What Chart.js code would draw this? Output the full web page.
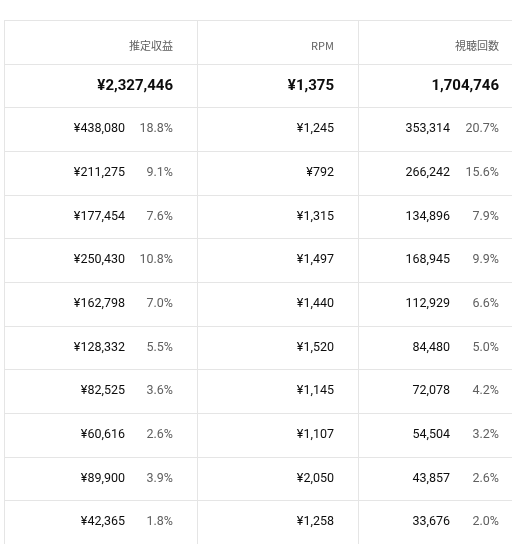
<!DOCTYPE html>
<html><head><meta charset="utf-8">
<script src="https://cdn.jsdelivr.net/npm/chart.js@4"></script>
<style>html,body{margin:0;background:#fff}#wrap{width:512px;height:544px}</style>
</head><body><div id="wrap"><canvas id="c"></canvas></div>
<script>
const headers = ["推定収益", "RPM", "視聴回数"];
const totals = ["¥2,327,446", "¥1,375", "1,704,746"];
const revenue = [438080, 211275, 177454, 250430, 162798, 128332, 82525, 60616, 89900, 42365];
const revenuePct = ["18.8%", "9.1%", "7.6%", "10.8%", "7.0%", "5.5%", "3.6%", "2.6%", "3.9%", "1.8%"];
const rpm = [1245, 792, 1315, 1497, 1440, 1520, 1145, 1107, 2050, 1258];
const views = [353314, 266242, 134896, 168945, 112929, 84480, 72078, 54504, 43857, 33676];
const viewsPct = ["20.7%", "15.6%", "7.9%", "9.9%", "6.6%", "5.0%", "4.2%", "3.2%", "2.6%", "2.0%"];
const rowLabels = ["header", "total"].concat(revenue.map((_, i) => "r" + i));
// column edges in x-scale units (the table width is 0..508)
const colEdges = [0, 193, 354, 508];

const fmt = (n) => n.toLocaleString("en-US");

const tablePlugin = {
  id: "table",
  afterDraw(chart) {
    const { ctx, scales: { x, y }, chartArea } = chart;
    ctx.save();
    ctx.strokeStyle = "#e5e5e5";
    ctx.lineWidth = 1;
    // vertical separators
    colEdges.slice(0, 3).forEach((e) => {
      const px = Math.round(x.getPixelForValue(e)) + 0.5;
      ctx.beginPath(); ctx.moveTo(px, chartArea.top); ctx.lineTo(px, chartArea.bottom); ctx.stroke();
    });
    // horizontal separators
    rowLabels.forEach((_, i) => {
      const py = Math.round(y.getPixelForValue(i) - (y.getPixelForValue(1) - y.getPixelForValue(0)) / 2) + 0.5;
      ctx.beginPath(); ctx.moveTo(chartArea.left, py); ctx.lineTo(chartArea.right, py); ctx.stroke();
    });
    ctx.textBaseline = "middle";
    ctx.textAlign = "right";
    const right = [x.getPixelForValue(colEdges[1] - 24), x.getPixelForValue(colEdges[2] - 24), x.getPixelForValue(colEdges[3] - 13)];
    // header row
    ctx.fillStyle = "#606060";
    ctx.font = "11px 'Noto Sans CJK JP', Roboto, sans-serif";
    headers.forEach((h, c) => ctx.fillText(h, right[c], y.getPixelForValue(0) + 4));
    // totals
    ctx.fillStyle = "#0d0d0d";
    ctx.font = "bold 15px Roboto, 'Noto Sans CJK JP', sans-serif";
    totals.forEach((t, c) => ctx.fillText(t, right[c], y.getPixelForValue(1) + 1));
    // data rows
    revenue.forEach((v, i) => {
      const py = y.getPixelForValue(i + 2);
      ctx.font = "12.5px Roboto, 'Noto Sans CJK JP', sans-serif";
      ctx.fillStyle = "#606060";
      ctx.fillText(revenuePct[i], right[0], py);
      ctx.fillText(viewsPct[i], right[2], py);
      ctx.fillStyle = "#0d0d0d";
      ctx.fillText("¥" + fmt(v), right[0] - 48, py);
      ctx.fillText("¥" + fmt(rpm[i]), right[1], py);
      ctx.fillText(fmt(views[i]), right[2] - 49, py);
    });
    ctx.restore();
  }
};

new Chart(document.getElementById("c"), {
  type: "bar",
  data: { labels: rowLabels, datasets: [{ data: rowLabels.map(() => null) }] },
  options: {
    indexAxis: "y",
    responsive: true,
    maintainAspectRatio: false,
    animation: false,
    layout: { padding: { left: 4, top: 20, right: 0, bottom: 0 } },
    plugins: { legend: { display: false }, tooltip: { enabled: false } },
    scales: {
      x: { type: "linear", min: colEdges[0], max: colEdges[3], display: false },
      y: { type: "category", display: false, offset: true }
    }
  },
  plugins: [tablePlugin]
});
</script></body></html>
